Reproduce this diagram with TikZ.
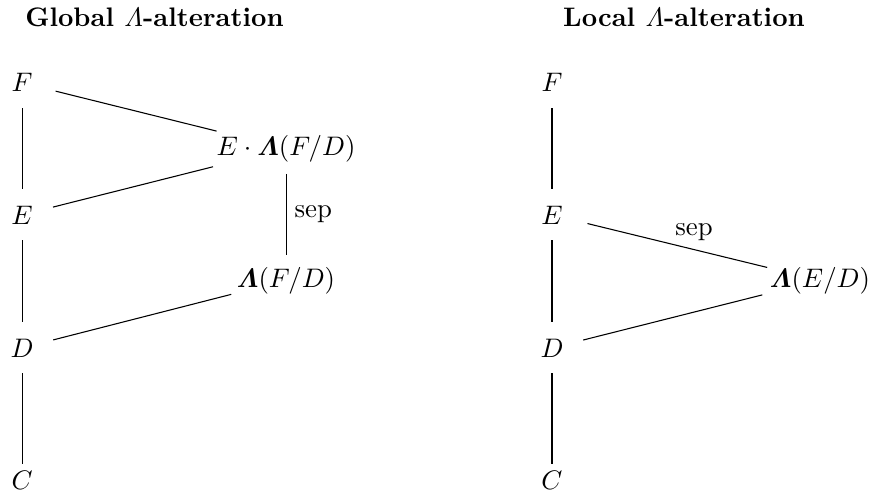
\documentclass[tikz,border=0pt]{standalone}
\usepackage{amsmath}
\usetikzlibrary{positioning, calc}

\begin{document}
\begin{tikzpicture}[
		% Field objects (placed at their baseline)
		obj/.style={inner sep=0pt, anchor=base},
		% Column titles
		ttl/.style={font=\bfseries, anchor=base},
		% Lines of the tower
		vline/.style={shorten <=9.5pt, shorten >=9.5pt},
		labsep/.style={inner sep=3pt}
	]
	\useasboundingbox (0,0) rectangle (11.422,-6.478);

	% ==========================================
	% 1. TITLES
	% ==========================================
	\node[ttl] (tglobal) at (2.026, -0.341) {Global $\varLambda$-alteration};
	\node[ttl] (tlocal) at (8.970, -0.341) {Local $\varLambda$-alteration};

	% ==========================================
	% 2. GLOBAL (LEFT)
	% ==========================================
	\node[obj] (gF) at (0.289, -1.206) {$F$};
	\node[obj] (gE) at (0.289, -2.938) {$E$};
	\node[obj] (gD) at (0.289, -4.682) {$D$};
	\node[obj] (gC) at (0.289, -6.413) {$C$};

	\node[obj] (gEL) at (3.751, -2.033) {$E\cdot\boldsymbol{\varLambda}(F/D)$};
	\node[obj] (gL) at (3.751, -3.764) {$\boldsymbol{\varLambda}(F/D)$};

	\draw[vline] (gF.center) -- (gE.center);
	\draw[vline] (gE.center) -- (gD.center);
	\draw[vline, shorten >=6pt] (gD.center) -- (gC.center);

	\draw[vline] (gEL.center) -- node[labsep, right] {sep} (gL.center);

	\draw[shorten <=12.9pt, shorten >=26.7pt] (gF.center) -- (gEL.center);
	\draw[shorten <=11.9pt, shorten >=28.1pt] (gE.center) -- (gEL.center);
	\draw[shorten <=12pt, shorten >=21.1pt] (gD.center) -- (gL.center);

	% ==========================================
	% 3. LOCAL (RIGHT)
	% ==========================================
	\node[obj] (lF) at (7.239, -1.206) {$F$};
	\node[obj] (lE) at (7.239, -2.938) {$E$};
	\node[obj] (lD) at (7.239, -4.682) {$D$};
	\node[obj] (lC) at (7.239, -6.413) {$C$};

	\node[obj] (lL) at (10.753, -3.764) {$\boldsymbol{\varLambda}(E/D)$};

	\draw[vline] (lF.center) -- (lE.center);
	\draw[vline] (lE.center) -- (lD.center);
	\draw[vline, shorten >=6pt] (lD.center) -- (lC.center);

	\draw[shorten <=13.6pt, shorten >=20.3pt] (lE.center) -- node[labsep, pos=0.53, above] {sep} (lL.center);
	\draw[shorten <=12pt, shorten >=22.2pt] (lD.center) -- (lL.center);

\end{tikzpicture}
\end{document}
